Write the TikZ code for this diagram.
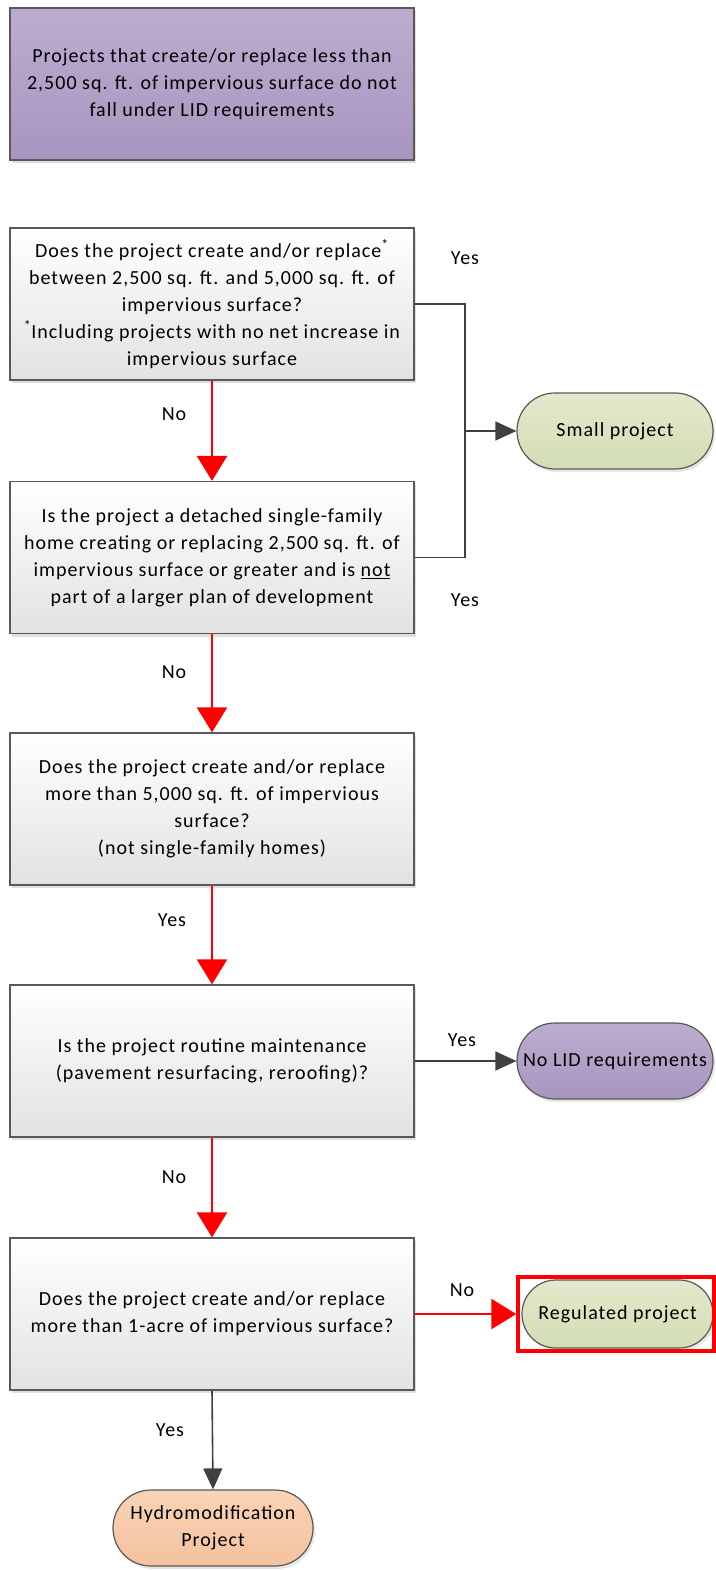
\documentclass[tikz,border=0pt]{standalone}
\usepackage{fontspec}
\setmainfont{Carlito}[LetterSpace=5]
\usetikzlibrary{arrows.meta,shadows}
\definecolor{boxline}{HTML}{595959}
\definecolor{boxgray}{HTML}{E2E2E2}
\definecolor{purpletop}{HTML}{BCADD0}
\definecolor{purplebot}{HTML}{A895BF}
\definecolor{greentop}{HTML}{E3E9CC}
\definecolor{greenbot}{HTML}{D3DDB4}
\definecolor{orangetop}{HTML}{F9D3B6}
\definecolor{orangebot}{HTML}{F4C29E}
\definecolor{arrowgray}{HTML}{404040}
\definecolor{flowred}{HTML}{FF0000}
\begin{document}
\begin{tikzpicture}[x=1pt,y=-1pt,
  txt/.style={font=\fontsize{20}{27}\selectfont},
  box/.style={txt, draw=boxline, line width=1.3pt, top color=white, bottom color=boxgray,
    minimum width=404pt, minimum height=152pt, inner sep=0pt, align=center,
    drop shadow={opacity=0.25, shadow xshift=2pt, shadow yshift=-3pt}},
  term/.style={txt, draw=boxline, line width=1.2pt, rounded corners=37.9pt,
    minimum width=196pt, minimum height=76pt, inner sep=0pt, align=center,
    drop shadow={opacity=0.2, shadow xshift=2pt, shadow yshift=-3pt}},
  redarrow/.style={draw=flowred, line width=2.6pt, -{Triangle[width=30pt,length=25pt]}},
  grayline/.style={draw=arrowgray, line width=1.6pt},
  grayarrow/.style={grayline, -{Triangle[width=19pt,length=21pt]}},
  lbl/.style={txt, inner sep=0pt}]
\useasboundingbox (0,0) rectangle (715,1570);

\node[box, top color=purpletop, bottom color=purplebot] (top) at (212,84)
  {Projects that create/or replace less than\\2,500 sq. ft. of impervious surface do not\\fall under LID requirements};

\node[box] (b1) at (212,304)
  {Does the project create and/or replace\textsuperscript{*}\\between 2,500 sq. ft. and 5,000 sq. ft. of\\impervious surface?\\\textsuperscript{*}Including projects with no net increase in\\impervious surface};
\node[box] (b2) at (212,557.5)
  {Is the project a detached single-family\\home creating or replacing 2,500 sq. ft. of\\impervious surface or greater and is \underline{not}\\part of a larger plan of development};
\node[box] (b3) at (212,809)
  {Does the project create and/or replace\\more than 5,000 sq. ft. of impervious\\surface?\\(not single-family homes)};
\node[box] (b4) at (212,1061)
  {Is the project routine maintenance\\(pavement resurfacing, reroofing)?};
\node[box] (b5) at (212,1314)
  {Does the project create and/or replace\\more than 1-acre of impervious surface?};

\node[term, top color=greentop, bottom color=greenbot] (small) at (615,431) {Small project};
\node[term, top color=purpletop, bottom color=purplebot] (nolid) at (615,1061) {No LID requirements};
\node[term, top color=greentop, bottom color=greenbot, minimum width=191pt, minimum height=68pt, rounded corners=33.9pt] (reg) at (617.5,1314) {Regulated project};
\node[draw=flowred, line width=3.5pt, minimum width=196pt, minimum height=74pt, inner sep=0pt] (regframe) at (616,1314) {};
\node[term, top color=orangetop, bottom color=orangebot, minimum width=200pt] (hydro) at (213,1528) {Hydromodification\\Project};

\coordinate (j1) at (465,304);
\coordinate (j2) at (465,557.5);
\coordinate (j3) at (465,431);
\draw[grayline] (b1.east) -- (j1) -- (j2) -- (b2.east);
\draw[grayarrow] (j3) -- (small.west);

\draw[redarrow] (b1.south) -- (b2.north);
\draw[redarrow] (b2.south) -- (b3.north);
\draw[redarrow] (b3.south) -- (b4.north);
\draw[redarrow] (b4.south) -- (b5.north);
\draw[grayarrow] (b4.east) -- (nolid.west);
\draw[redarrow] (b5.east) -- (regframe.west);
\draw[grayarrow] (b5.south) -- (hydro.north);

\node[lbl] (l1) at (465,258) {Yes};
\node[lbl] (l2) at (174,414) {No};
\node[lbl] (l3) at (465,600) {Yes};
\node[lbl] (l4) at (174,672) {No};
\node[lbl] (l5) at (172,920) {Yes};
\node[lbl] (l6) at (462,1040) {Yes};
\node[lbl] (l7) at (174,1177) {No};
\node[lbl] (l8) at (462,1290) {No};
\node[lbl] (l9) at (170,1430) {Yes};
\end{tikzpicture}
\end{document}
